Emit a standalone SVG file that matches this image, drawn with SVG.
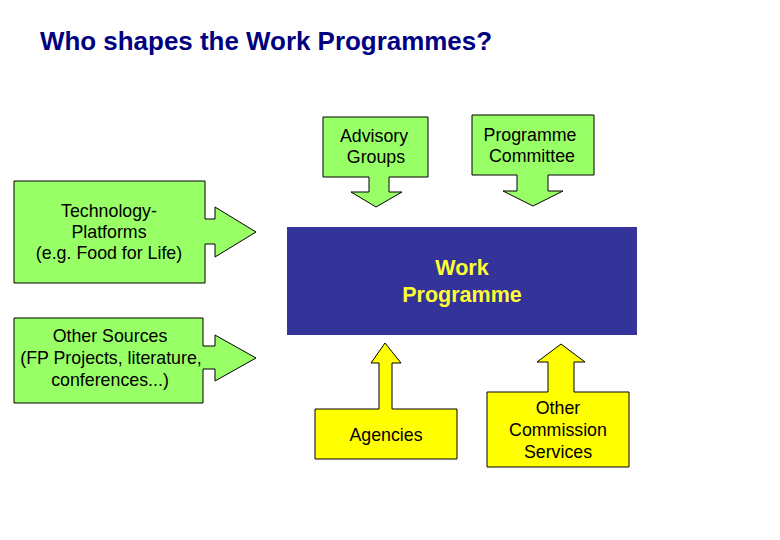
<svg xmlns="http://www.w3.org/2000/svg" width="780" height="540" viewBox="0 0 780 540">
<style>
.g{fill:#99ff66;stroke:#000;stroke-width:1}
.y{fill:#ffff00;stroke:#000;stroke-width:1}
.t{font-family:"Liberation Sans",Arial,sans-serif;font-size:17.8px;fill:#000;text-anchor:middle}
.w{font-family:"Liberation Sans",Arial,sans-serif;font-size:21.5px;font-weight:bold;fill:#ffff33;text-anchor:middle}
.title{font-family:"Liberation Sans",Arial,sans-serif;font-size:25px;font-weight:bold;fill:#000080}
</style>
<rect width="780" height="540" fill="#fff"/>
<text class="title" x="40" y="50" textLength="452" lengthAdjust="spacingAndGlyphs">Who shapes the Work Programmes?</text>
<g id="connectors"></g>
<g id="advisory">
<polygon class="g" points="323,117 428,117 428,177 389,177 389,192 402,192 376,207 351,192 369,192 369,177 323,177"/>
<text class="t" x="374" y="142">Advisory</text>
<text class="t" x="376" y="163">Groups</text>
</g>
<g id="committee">
<polygon class="g" points="472,115 594,115 594,175 548,175 548,191 563,191 533,206 503,191 517,191 517,175 472,175"/>
<text class="t" x="530" y="141">Programme</text>
<text class="t" x="532" y="162">Committee</text>
</g>
<g id="techplatforms">
<polygon class="g" points="14,181 205,181 205,219 215,219 215,207 256,232 215,257 215,244 205,244 205,283 14,283"/>
<text class="t" x="109" y="217">Technology-</text>
<text class="t" x="109" y="238">Platforms</text>
<text class="t" x="109" y="259">(e.g. Food for Life)</text>
</g>
<g id="othersources">
<polygon class="g" points="14,318 203,318 203,346 215,346 215,335 256,358 215,381 215,369 203,369 203,403 14,403"/>
<text class="t" x="110" y="342">Other Sources</text>
<text class="t" x="111" y="364">(FP Projects, literature,</text>
<text class="t" x="110" y="386">conferences...)</text>
</g>
<g id="workprogramme">
<rect x="287" y="227" width="350" height="108" fill="#333399"/>
<text class="w" x="462" y="275">Work</text>
<text class="w" x="462" y="302">Programme</text>
</g>
<g id="agencies">
<polygon class="y" points="315,409 379,409 379,363 371,363 385,343 401,363 392,363 392,409 457,409 457,459 315,459"/>
<text class="t" x="386" y="441">Agencies</text>
</g>
<g id="commission">
<polygon class="y" points="487,392 548,392 548,362 537,362 561,344 585,362 574,362 574,392 629,392 629,467 487,467"/>
<text class="t" x="558" y="414">Other</text>
<text class="t" x="558" y="436">Commission</text>
<text class="t" x="558" y="458">Services</text>
</g>
</svg>
